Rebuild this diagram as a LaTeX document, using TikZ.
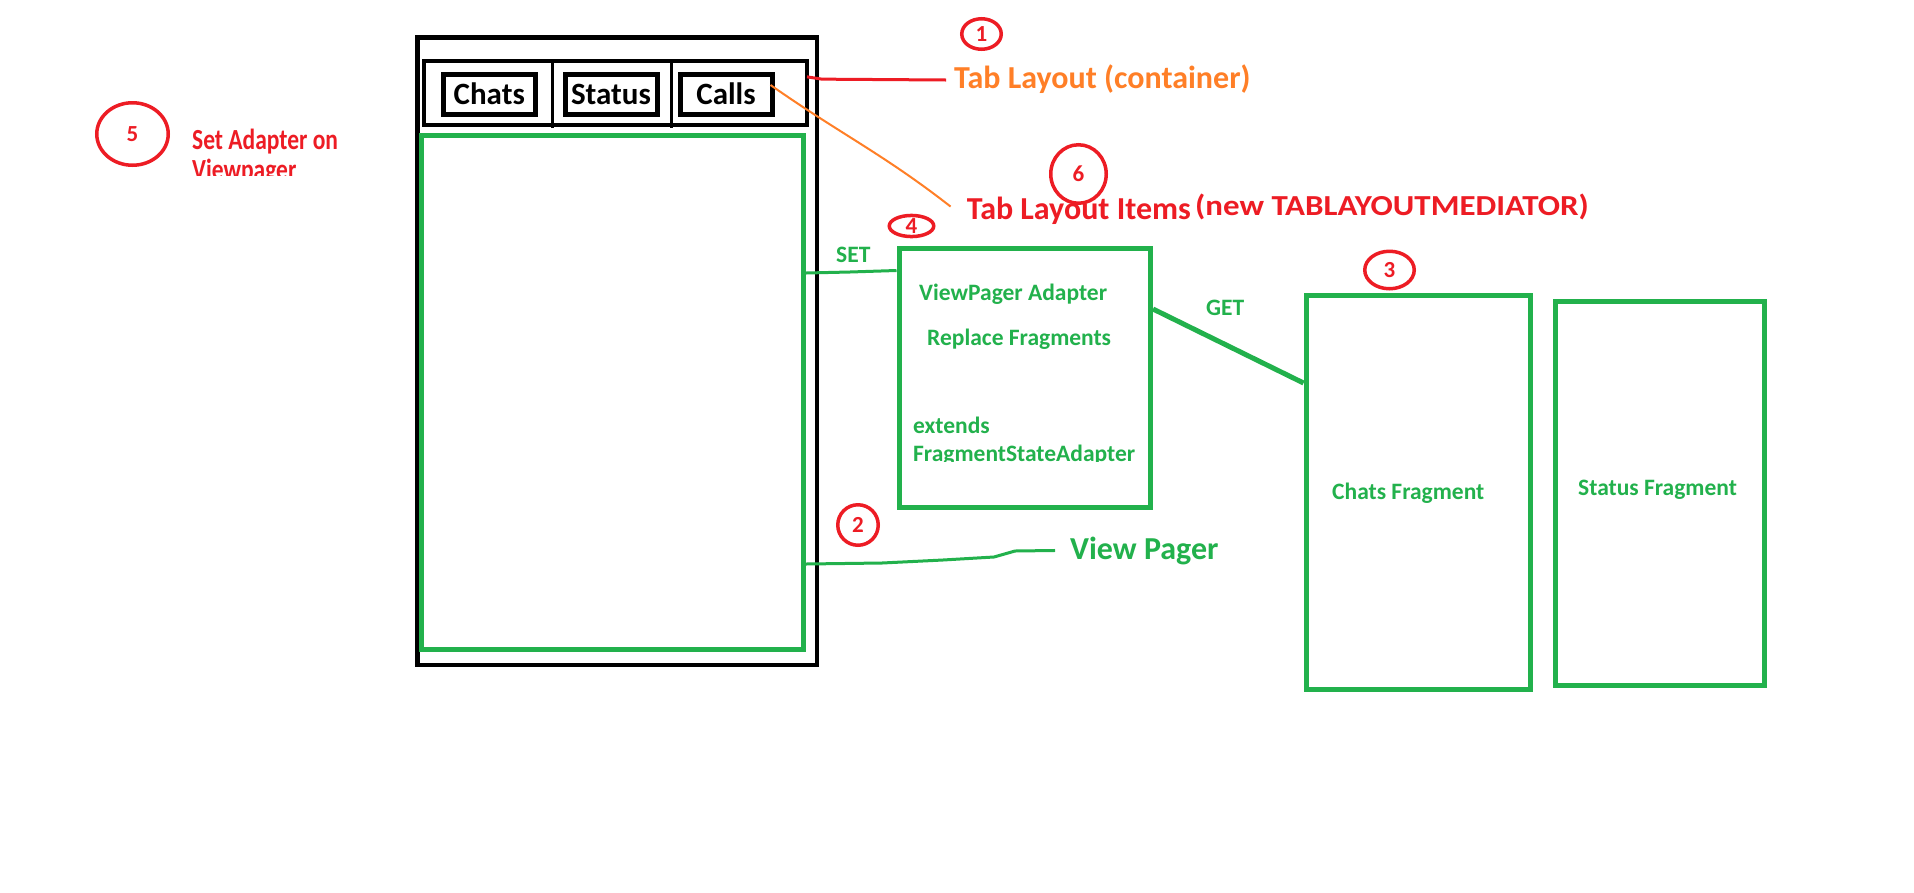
\documentclass[tikz,border=0pt]{standalone}
\usepackage{fontspec}
\setmainfont{Carlito}
\usetikzlibrary{shapes.geometric,calc}
\definecolor{pgreen}{RGB}{34,177,76}
\definecolor{pred}{RGB}{237,28,36}
\definecolor{porange}{RGB}{255,127,39}
\begin{document}
\begin{tikzpicture}[x=1pt,y=-1pt,
  box/.style={draw, rectangle, inner sep=0pt, line join=miter},
  blackbox/.style={box, draw=black, line width=4.5pt},
  greenbox/.style={box, draw=pgreen, line width=5pt},
  tabbox/.style={box, draw=black, line width=5pt, font=\fontsize{31}{31}\selectfont\bfseries},
  num/.style={draw=pred, ellipse, line width=3.5pt, inner sep=0pt, text=pred, font=\fontsize{23}{23}\selectfont\bfseries},
  lbl/.style={inner sep=0pt, anchor=base west, text=pgreen, font=\fontsize{23.5}{28}\selectfont\bfseries},
  big/.style={inner sep=0pt, anchor=base west, font=\fontsize{32}{32}\selectfont\bfseries},
  gline/.style={draw=pgreen, line width=3pt},
  rline/.style={draw=pred, line width=3pt},
  oline/.style={draw=porange, line width=2pt},
]
\useasboundingbox[fill=white] (0,0) rectangle (1914,892);

% phone frame and tab bar
\node[blackbox, minimum width=399.4pt, minimum height=627.5pt] (phone) at (617.3,351.25) {};
\node[blackbox, line width=4pt, minimum width=383pt, minimum height=63.7pt] (tabbar) at (615.5,92.85) {};
\draw[line width=3pt] (552,61) -- (552,128);
\draw[line width=3pt] (671,61) -- (671,128);
\node[tabbox, minimum width=91.5pt, minimum height=40pt] (tchats) at (489.25,94) {Chats};
\node[tabbox, minimum width=92pt, minimum height=40pt] (tstatus) at (611,94) {Status};
\node[tabbox, minimum width=92pt, minimum height=40pt] (tcalls) at (726,94) {Calls};

% view pager
\node[greenbox, minimum width=382.5pt, minimum height=514pt] (vp) at (612.25,392) {};

% adapter box
\node[greenbox, minimum width=251.5pt, minimum height=259pt] (adapter) at (1024.75,378) {};
\node[lbl] (vpa) at (919,300) {ViewPager Adapter};
\node[lbl] (repl) at (927,345) {Replace Fragments};
\node[lbl] (ext) at (913,433) {extends};
\begin{scope}
  \clip (900,440) rectangle (1146,461.7);
  \node[lbl] (fsa) at (913,461) {FragmentStateAdapter};
\end{scope}

% fragments
\node[greenbox, minimum width=224pt, minimum height=394.5pt] (chatsfrag) at (1418,492.25) {};
\node[greenbox, minimum width=209.5pt, minimum height=384pt] (statusfrag) at (1659.75,493.5) {};
\node[lbl] (cflbl) at (1332,499) {Chats Fragment};
\node[lbl] (sflbl) at (1578,495) {Status Fragment};

% numbered circles
\node[num, minimum width=39.5pt, minimum height=30.5pt] (c1) at (981.5,34) {1};
\node[num, minimum width=40.5pt, minimum height=40.5pt] (c2) at (858,525) {2};
\node[num, minimum width=49.5pt, minimum height=37.5pt] (c3) at (1389.5,270) {3};
\node[num, minimum width=44.5pt, minimum height=20.5pt] (c4) at (911.5,226) {4};
\node[num, minimum width=71.5pt, minimum height=62.5pt] (c5) at (132.5,134) {5};
\node[num, minimum width=55.5pt, minimum height=58.5pt] (c6) at (1078.5,174) {6};

% step 5 text
\node[inner sep=0pt, anchor=base west, text=pred, font=\fontsize{23.5}{28}\selectfont\bfseries] (setad) at (192,149.3) {\scalebox{1}[1.24]{Set Adapter on}};
\begin{scope}
  \clip (180,155) rectangle (360,175);
  \node[inner sep=0pt, anchor=base west, text=pred, font=\fontsize{23.5}{28}\selectfont\bfseries] (vpg) at (192,179) {\scalebox{1}[1.24]{Viewpager}};
\end{scope}

% big labels
\node[big, text=porange] (tlc) at (954,88.3) {Tab Layout (container)};
\node[big, text=pred] (items) at (966.6,219.3) {Tab Layout Items};
\node[big, text=pred, font=\fontsize{29}{29}\selectfont\bfseries] (med) at (1195,215) {\scalebox{1.135}[1]{(new TABLAYOUTMEDIATOR)}};
\node[big, text=pgreen] (vptext) at (1070,559) {View Pager};

% connector labels
\node[lbl] (setlbl) at (836,262) {SET};
\node[lbl] (getlbl) at (1206,315) {GET};

% connectors
\draw[rline] ($(tabbar.east)+(-2,-16)$) -- ++(15,2.3) -- ([xshift=-8pt]tlc.west |- 0,80);
\draw[oline] ($(tcalls.east)+(-4,-9)$) to[out=-35,in=142] ([xshift=-16pt,yshift=4pt]items.west);
\draw[gline] (vp.east |- 0,273) -- (850,272) -- (adapter.west |- 0,270.5);
\draw[gline, line width=5pt] (adapter.east |- 0,309) -- (chatsfrag.west |- 0,383);
\draw[gline] (vp.east |- 0,564) -- (882,563) -- (943,560) -- (994,557) -- (1015,551) -- ($(vptext.west)+(-15,0)$);
\end{tikzpicture}
\end{document}
